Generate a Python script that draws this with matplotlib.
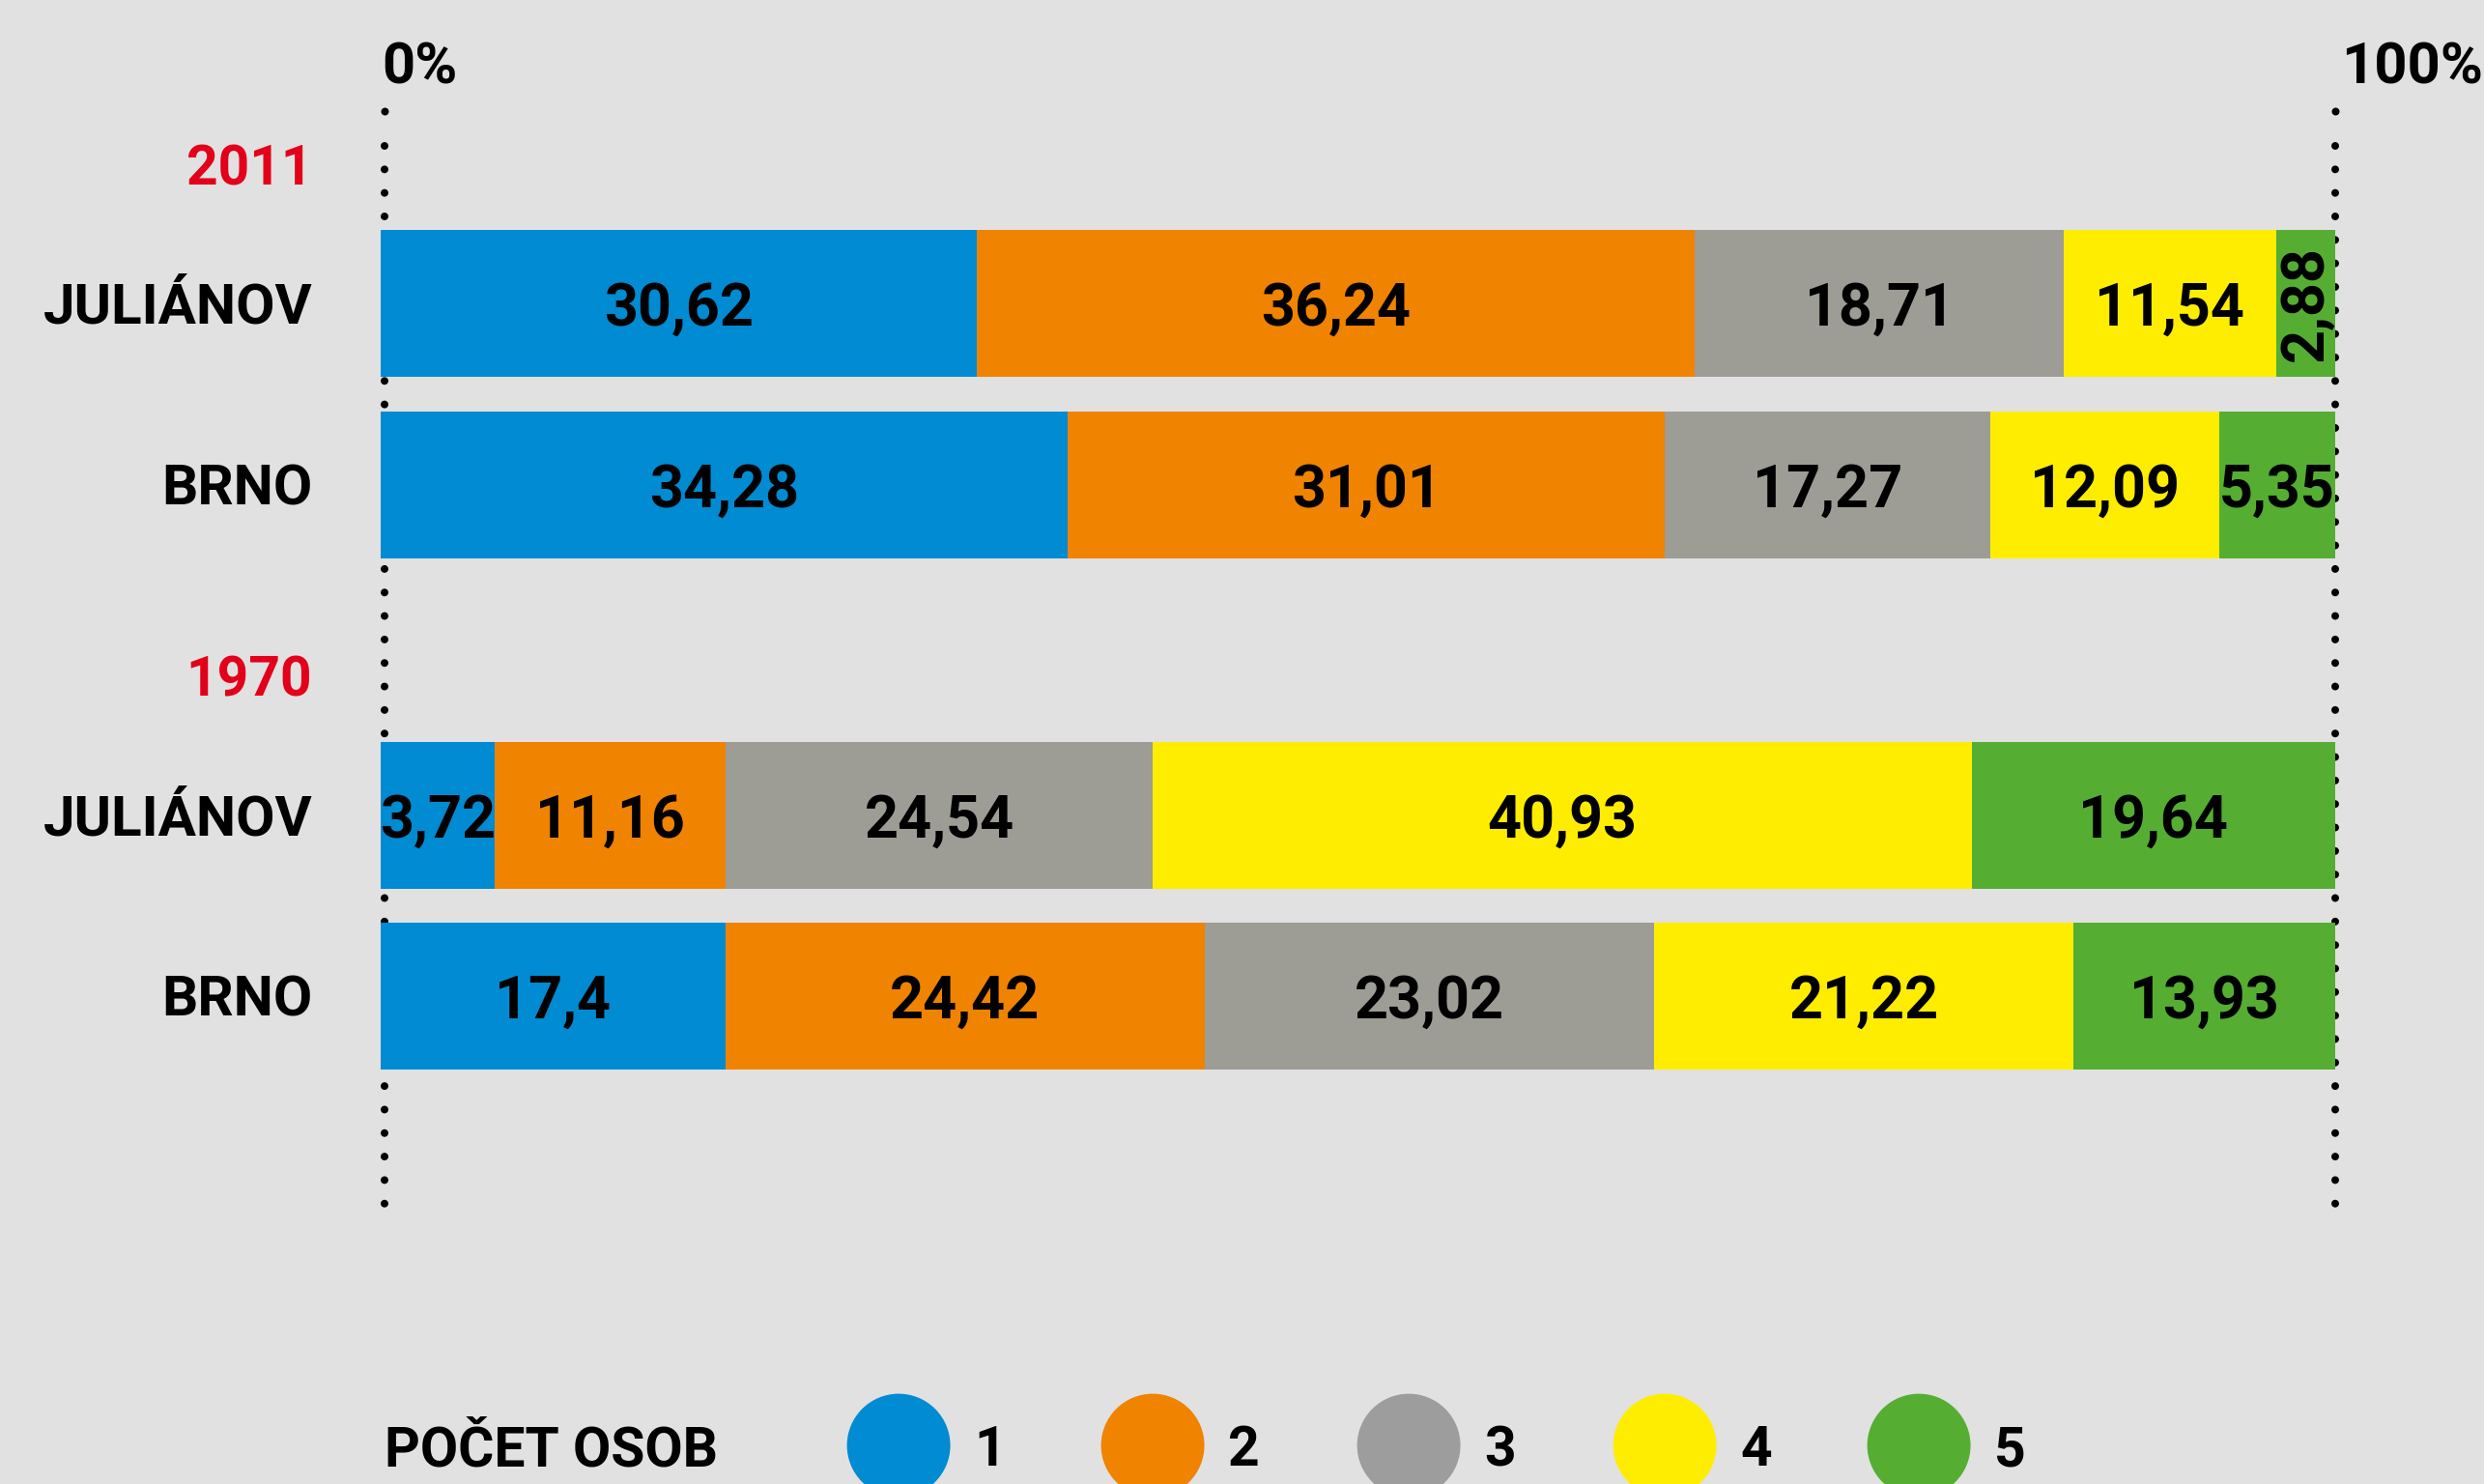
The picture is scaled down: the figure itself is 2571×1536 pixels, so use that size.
import matplotlib
matplotlib.use("Agg")
import matplotlib.pyplot as plt
import matplotlib.transforms as mtransforms

# ---- data ----
years = ["2011", "1970"]
places = ["JULIÁNOV", "BRNO"]
household_sizes = ["1", "2", "3", "4", "5"]
# printed shares (%)
julianov_2011 = [30.62, 36.24, 18.71, 11.54, 2.88]
brno_2011 = [34.28, 31.01, 17.27, 12.09, 5.35]
julianov_1970 = [3.72, 11.16, 24.54, 40.93, 19.64]
brno_1970 = [17.4, 24.42, 23.02, 21.22, 13.93]
# segment lengths as actually drawn in the picture (% of full bar)
drawn_julianov_2011 = [30.51, 36.72, 18.88, 10.86, 3.03]
drawn_brno_2011 = [35.17, 30.51, 16.68, 11.70, 5.94]
drawn_julianov_1970 = [5.82, 11.83, 21.85, 41.89, 18.61]
drawn_brno_1970 = [17.65, 24.50, 23.01, 21.46, 13.38]
legend_title = "POČET OSOB"
axis_labels = ["0%", "100%"]

# ---- style ----
BG = "#e1e1e1"
colors = ["#008bd2", "#f08300", "#9d9c95", "#ffed00", "#55ae31"]
legend_colors = ["#008bd2", "#f08300", "#9d9d9d", "#ffed00", "#55ae31"]
RED = "#e2001a"
FONT = ["Roboto", "DejaVu Sans"]
plt.rcParams["font.family"] = FONT


def cz(v):
    s = f"{v:.2f}".rstrip("0").rstrip(".")
    return s.replace(".", ",")


W, H = 2571, 1536
fig = plt.figure(figsize=(W / 100, H / 100), dpi=100, facecolor=BG)
ax = fig.add_axes([394 / W, 0, 2023 / W, 1])
ax.set_facecolor(BG)
ax.set_xlim(0, 100)
ax.set_ylim(6.517, -1.675)
ax.axis("off")

values = [julianov_2011, brno_2011, julianov_1970, brno_1970]
drawn = [drawn_julianov_2011, drawn_brno_2011, drawn_julianov_1970, drawn_brno_1970]
row_pos = [0, 1, 2.824, 3.824]
row_names = [places[0], places[1], places[0], places[1]]
bar_h = 0.81

# dotted guide lines (behind bars)
dot_off = mtransforms.ScaledTranslation(4 / 100, 0, fig.dpi_scale_trans)
for xv in (0, 100):
    tr = ax.transData + dot_off if xv == 0 else ax.transData
    ax.plot([xv, xv], [-0.869, 4.975], color="black", lw=5.76,
            linestyle=(0, (0.001, 3.04)), dash_capstyle="round",
            transform=tr, zorder=1, clip_on=False)
    ax.plot([xv], [-1.061], marker="o", ms=5.76, mew=0, color="black",
            transform=tr, zorder=1, clip_on=False)

# bars
for yi, vals, lens in zip(row_pos, values, drawn):
    left = 0
    for k, (v, ln) in enumerate(zip(vals, lens)):
        ax.barh(yi, ln, left=left, height=bar_h, color=colors[k],
                edgecolor="none", zorder=2)
        cx = left + ln / 2
        lab = cz(v)
        if ln < 4:
            ax.text(cx, yi, lab, rotation=90, ha="center", va="center",
                    fontsize=44, fontweight="bold", color="black", zorder=3)
        else:
            ax.text(cx, yi + 0.123, lab, ha="center", va="baseline",
                    fontsize=44, fontweight="bold", color="black", zorder=3)
        left += ln

# row labels
for yi, name in zip(row_pos, row_names):
    ax.text(-3.5, yi + 0.11, name, ha="right", va="baseline", fontsize=42,
            fontweight="bold", color="black", clip_on=False)

# year headers
for yi, yr in zip([row_pos[0], row_pos[2]], years):
    ax.text(-3.5, yi - 0.656, yr, ha="right", va="baseline", fontsize=41,
            fontweight="bold", color=RED, clip_on=False)

# 0% / 100%
ax.text(0.05, -1.216, axis_labels[0], ha="left", va="baseline", fontsize=43,
        fontweight="bold", color="black", clip_on=False)
ax.text(100.3, -1.216, axis_labels[1], ha="left", va="baseline", fontsize=43,
        fontweight="bold", color="black", clip_on=False)

# legend
ax.text(0.2, 6.416, legend_title, ha="left", va="baseline", fontsize=41,
        fontweight="bold", color="black", clip_on=False)
leg_x = [26.5, 39.5, 52.6, 65.7, 78.7]
for xk, c, lab in zip(leg_x, legend_colors, household_sizes):
    ax.scatter([xk], [6.304], s=77 ** 2, color=c, edgecolors="none",
               zorder=2, clip_on=False)
    ax.text(xk + 3.86, 6.416, lab, ha="left", va="baseline", fontsize=41,
            fontweight="bold", color="black", clip_on=False)

fig.savefig("out.png", dpi=100, facecolor=BG)
